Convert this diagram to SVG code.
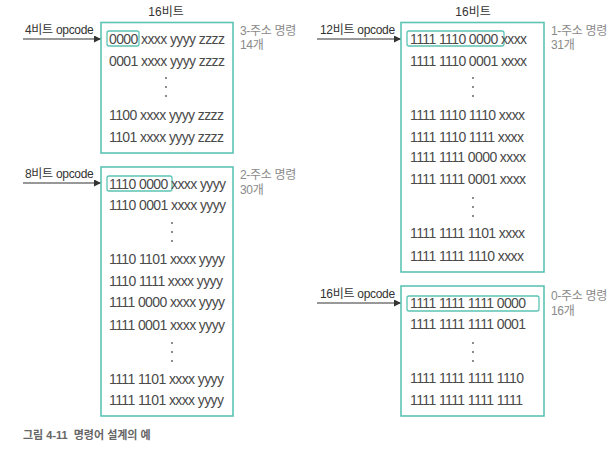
<svg xmlns="http://www.w3.org/2000/svg" width="615" height="457" viewBox="0 0 615 457">
<style>
.box{fill:none;stroke:#5cc4b4;stroke-width:1.6}
.hl{fill:none;stroke:#5cc4b4;stroke-width:1.3}
.row{font-family:"Liberation Sans","Noto Sans CJK KR",sans-serif;font-size:14px;letter-spacing:-0.6px;fill:#4a4a4a}
.op{font-family:"Liberation Sans","Noto Sans CJK KR",sans-serif;font-size:12px;letter-spacing:-0.3px;fill:#333}
.hd{font-family:"Liberation Sans","Noto Sans CJK KR",sans-serif;font-size:12px;fill:#333;text-anchor:middle}
.lb{font-family:"Liberation Sans","Noto Sans CJK KR",sans-serif;font-size:12px;letter-spacing:-0.3px;fill:#8a8a8a}
.cap{font-family:"Liberation Sans","Noto Sans CJK KR",sans-serif;font-size:11px;font-weight:bold;fill:#666}
.arr{stroke:#333;stroke-width:1.2;fill:none;marker-end:url(#ah)}
.dot{fill:#555}
</style>
<defs>
<marker id="ah" viewBox="0 0 10 10" refX="10" refY="5" markerWidth="7" markerHeight="7" orient="auto" markerUnits="userSpaceOnUse">
<path d="M0,0 L10,5 L0,10 z" fill="#333"/>
</marker>
</defs>

<g id="connectors">
<line class="arr" x1="23" y1="39" x2="101" y2="39"/>
<line class="arr" x1="23" y1="183" x2="101" y2="183"/>
<line class="arr" x1="317" y1="39" x2="401" y2="39"/>
<line class="arr" x1="317" y1="303" x2="401" y2="303"/>
</g>

<g id="node-4bit">
<text class="hd" x="166" y="16">16비트</text>
<text class="op" x="25" y="34">4비트 opcode</text>
<rect class="box" x="101" y="22.5" width="132" height="130.5"/>
<rect class="hl" x="107" y="31" width="32" height="15" rx="2"/>
<text class="row" x="109" y="44">0000 xxxx yyyy zzzz</text>
<text class="row" x="109" y="66">0001 xxxx yyyy zzzz</text>
<circle class="dot" cx="166" cy="78" r="0.9"/><circle class="dot" cx="166" cy="87" r="0.9"/><circle class="dot" cx="166" cy="96" r="0.9"/>
<text class="row" x="109" y="120">1100 xxxx yyyy zzzz</text>
<text class="row" x="109" y="142">1101 xxxx yyyy zzzz</text>
<text class="lb" x="240" y="35">3-주소 명령</text>
<text class="lb" x="240" y="49">14개</text>
</g>

<g id="node-8bit">
<text class="op" x="25" y="178">8비트 opcode</text>
<rect class="box" x="101" y="167" width="132" height="249"/>
<rect class="hl" x="107" y="176" width="65" height="15" rx="2"/>
<text class="row" x="109" y="189">1110 0000 xxxx yyyy</text>
<text class="row" x="109" y="210">1110 0001 xxxx yyyy</text>
<circle class="dot" cx="172" cy="223" r="0.9"/><circle class="dot" cx="172" cy="232" r="0.9"/><circle class="dot" cx="172" cy="241" r="0.9"/>
<text class="row" x="109" y="264">1110 1101 xxxx yyyy</text>
<text class="row" x="109" y="286">1110 1111 xxxx yyyy</text>
<text class="row" x="109" y="307">1111 0000 xxxx yyyy</text>
<text class="row" x="109" y="330">1111 0001 xxxx yyyy</text>
<circle class="dot" cx="172" cy="343" r="0.9"/><circle class="dot" cx="172" cy="352" r="0.9"/><circle class="dot" cx="172" cy="361" r="0.9"/>
<text class="row" x="109" y="384">1111 1101 xxxx yyyy</text>
<text class="row" x="109" y="405">1111 1101 xxxx yyyy</text>
<text class="lb" x="240" y="179">2-주소 명령</text>
<text class="lb" x="240" y="194">30개</text>
</g>

<g id="node-12bit">
<text class="hd" x="473" y="16">16비트</text>
<text class="op" x="320" y="34">12비트 opcode</text>
<rect class="box" x="401" y="22.5" width="143" height="249.5"/>
<rect class="hl" x="407" y="31" width="97" height="15" rx="2"/>
<text class="row" x="410" y="44">1111 1110 0000 xxxx</text>
<text class="row" x="410" y="66">1111 1110 0001 xxxx</text>
<circle class="dot" cx="473" cy="78" r="0.9"/><circle class="dot" cx="473" cy="87" r="0.9"/><circle class="dot" cx="473" cy="96" r="0.9"/>
<text class="row" x="410" y="120">1111 1110 1110 xxxx</text>
<text class="row" x="410" y="142">1111 1110 1111 xxxx</text>
<text class="row" x="410" y="162">1111 1111 0000 xxxx</text>
<text class="row" x="410" y="184">1111 1111 0001 xxxx</text>
<circle class="dot" cx="473" cy="198" r="0.9"/><circle class="dot" cx="473" cy="207" r="0.9"/><circle class="dot" cx="473" cy="216" r="0.9"/>
<text class="row" x="410" y="238">1111 1111 1101 xxxx</text>
<text class="row" x="410" y="261">1111 1111 1110 xxxx</text>
<text class="lb" x="551" y="35">1-주소 명령</text>
<text class="lb" x="551" y="49">31개</text>
</g>

<g id="node-16bit">
<text class="op" x="320" y="298">16비트 opcode</text>
<rect class="box" x="401" y="286" width="143" height="130"/>
<rect class="hl" x="407" y="296" width="132" height="15" rx="2"/>
<text class="row" x="410" y="308">1111 1111 1111 0000</text>
<text class="row" x="410" y="329">1111 1111 1111 0001</text>
<circle class="dot" cx="473" cy="343" r="0.9"/><circle class="dot" cx="473" cy="352" r="0.9"/><circle class="dot" cx="473" cy="361" r="0.9"/>
<text class="row" x="410" y="383">1111 1111 1111 1110</text>
<text class="row" x="410" y="405">1111 1111 1111 1111</text>
<text class="lb" x="551" y="300">0-주소 명령</text>
<text class="lb" x="551" y="315">16개</text>
</g>

<text class="cap" x="23" y="439">그림 4-11<tspan dx="6">명령어 설계의 예</tspan></text>
</svg>
